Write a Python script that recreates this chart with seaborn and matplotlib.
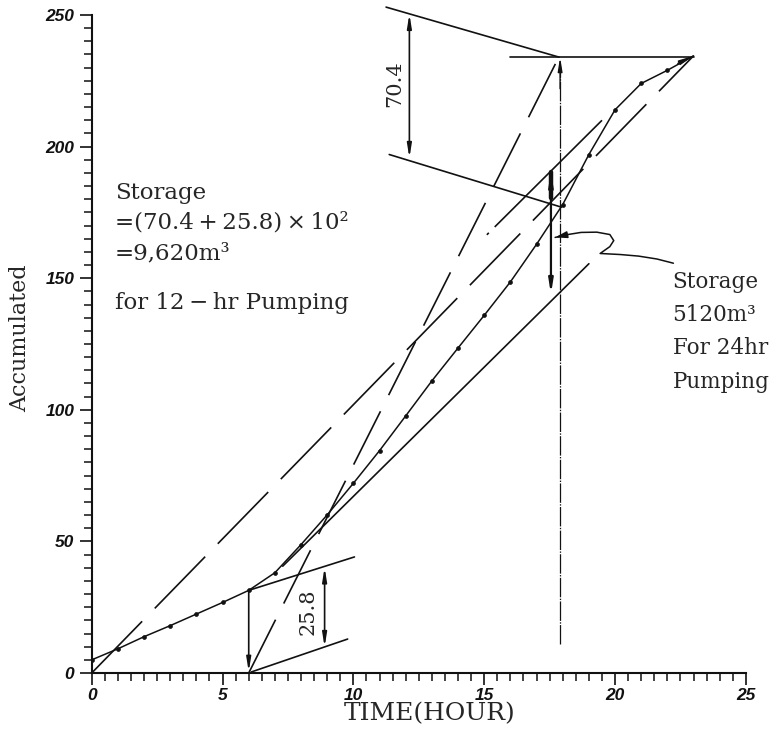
import pandas as pd
import matplotlib.pyplot as plt
from matplotlib.ticker import MultipleLocator
import seaborn as sns

#%% values

hours = list(range(24))
accumulated = [5, 9.2, 13.8, 18, 22.4, 26.8, 31.4, 38.1, 48.8, 60.1, 72.1, 84.5,
               97.7, 111, 123.5, 135.9, 148.6, 162.9, 178, 197, 214, 224, 229, 234.5]

# 24-hr pumping line and its two parallel tangents
pump24_x = [0, 23]
pump24_y = [0, 234.5]
tan24_low_x = [7.3, 19.0]
tan24_low_y = [40.6, 155.5]
tan24_up_x = [15.1, 19.5]
tan24_up_y = [166.5, 210]

# 12-hr pumping line (hour 6 -> 18) and construction lines
pump12_x = [6, 17.85]
pump12_y = [0, 234]
tan12_up_x = [6.03, 10.04]
tan12_up_y = [31.5, 44.1]
tan12_low_x = [6.1, 9.78]
tan12_low_y = [0.4, 12.9]
ext_top_x = [11.25, 17.86]
ext_top_y = [253, 234]
ext_bot_x = [11.37, 17.95]
ext_bot_y = [197, 177]
peak_x = [16.0, 23.0]
peak_y = [234, 234]

# vertical arrows: x, y_from, y_to
dim_704 = (12.14, 250.4, 195.7)
dim_258 = (8.9, 40.1, 9.9)
drop_6 = (6.0, 31.5, 0.5)
store_24 = (17.55, 190.5, 144)
vert_18 = (17.9, 11, 234)

callout_x = [22.23, 21.6, 20.9, 20.2, 19.43, 19.8, 19.95, 19.8, 19.3, 18.7, 18.2, 17.71]
callout_y = [155.7, 157.3, 158.4, 159.0, 159.4, 162.0, 164.3, 166.6, 167.5, 167.4, 166.6, 165.5]

#%% plot

sns.set_style("ticks")
plt.rcParams['font.family'] = ['DejaVu Serif']
plt.rcParams['lines.scale_dashes'] = False

fig = plt.figure(figsize=(7.76, 7.29), dpi=100)
ax = fig.add_axes([0.1182, 0.0768, 0.843, 0.9026])

ink = '#111111'
head = ',head_length=0.8,head_width=0.13'
df = pd.DataFrame({'hour': hours, 'acc': accumulated})
sns.lineplot(data=df, x='hour', y='acc', ax=ax, color=ink, lw=1.1,
             marker='o', markersize=2.8, markeredgecolor=ink, markeredgewidth=0.5,
             markevery=list(range(23)))
ax.annotate('', xy=(hours[-1], accumulated[-1]), xytext=(22.4, 231.6),
            arrowprops=dict(arrowstyle='-|>' + head, lw=1.1, color=ink,
                            shrinkA=0, shrinkB=0))

def line(xs, ys, ls='-', lw=1.2):
    ax.plot(xs, ys, color=ink, lw=lw, linestyle=ls, clip_on=False)

line(pump24_x, pump24_y, ls=(0, (52, 13)))
line(pump12_x, pump12_y, ls=(0, (43, 13)))
line(tan24_low_x, tan24_low_y)
line(tan24_up_x, tan24_up_y, ls=(0, (2, 6, 300, 1)))
line(tan12_up_x, tan12_up_y)
line(tan12_low_x, tan12_low_y)
line(ext_top_x, ext_top_y)
line(ext_bot_x, ext_bot_y)
line(peak_x, peak_y)
line(callout_x, callout_y, lw=1.1)

def varrow(spec, style='<|-|>', lw=1.2):
    x, y0, y1 = spec
    ax.annotate('', xy=(x, y1), xytext=(x, y0), annotation_clip=False,
                arrowprops=dict(arrowstyle=style + head, lw=lw, color=ink,
                                shrinkA=0, shrinkB=0))

varrow(dim_704)
varrow(dim_258)
varrow(drop_6, style='-|>')
varrow(store_24, lw=1.6)
ax.plot([store_24[0]] * 2, [store_24[1], store_24[1] - 10], color=ink, lw=3.2)
ax.plot([vert_18[0]] * 2, [vert_18[1], vert_18[2] - 3], color=ink, lw=0.9,
        linestyle=(0, (14, 1, 1, 1)))
ax.annotate('', xy=(vert_18[0], vert_18[2]), xytext=(vert_18[0], vert_18[2] - 12),
            arrowprops=dict(arrowstyle='-|>' + head, lw=1.0, color=ink,
                            shrinkA=0, shrinkB=0))
ax.annotate('', xy=(callout_x[-1], callout_y[-1]), xytext=(callout_x[-2], callout_y[-2]),
            arrowprops=dict(arrowstyle='-|>,head_length=0.7,head_width=0.2',
                            lw=1.1, color=ink, shrinkA=0, shrinkB=0))

# texts
ax.text(11.59, 224, '70.4', rotation=90, fontsize=15, ha='center', va='center')
ax.text(8.25, 23.3, '25.8', rotation=90, fontsize=15, ha='center', va='center')

left_txt = ['Storage', '=(70.4\u2009+\u200925.8)\u2009×\u200910²', '=9,620m³']
for i, t in enumerate(left_txt):
    ax.text(0.89, 182.4 - 11.4 * i, t, fontsize=16.5, ha='left', va='center')
ax.text(0.89, 140.6, 'for 12\u2009−\u2009hr Pumping', fontsize=16.5, ha='left', va='center')

right_txt = ['Storage', '5120m³', 'For 24hr', 'Pumping']
for i, t in enumerate(right_txt):
    ax.text(22.2, 148.5 - 12.6 * i, t, fontsize=15.5, ha='left', va='center')

#%% axes

ax.set_xlim(0, 25)
ax.set_ylim(0, 250)
sns.despine(ax=ax)
for s in ['left', 'bottom']:
    ax.spines[s].set_linewidth(1.5)
    ax.spines[s].set_color(ink)

ax.xaxis.set_major_locator(MultipleLocator(5))
ax.xaxis.set_minor_locator(MultipleLocator(0.5))
ax.yaxis.set_major_locator(MultipleLocator(50))
ax.yaxis.set_minor_locator(MultipleLocator(5))
ax.tick_params(which='major', direction='out', length=8.5, width=1.2, colors=ink, labelsize=12.5)
ax.tick_params(axis='x', which='major', pad=2)
ax.tick_params(axis='y', which='major', pad=4)
ax.tick_params(which='minor', direction='out', length=5.5, width=1.1, colors=ink)
for lab in ax.get_xticklabels() + ax.get_yticklabels():
    lab.set_fontfamily('Liberation Sans')
    lab.set_fontweight('bold')
    lab.set_fontstyle('italic')

ax.set_xlabel('TIME(HOUR)', fontsize=18)
ax.set_ylabel('Accumulated', fontsize=16)
ax.xaxis.label.set_va('center')
ax.yaxis.label.set_va('center')
ax.xaxis.set_label_coords(0.517, -0.062)
ax.yaxis.set_label_coords(-0.11, 0.509)

plt.savefig('out.png', dpi=100)
